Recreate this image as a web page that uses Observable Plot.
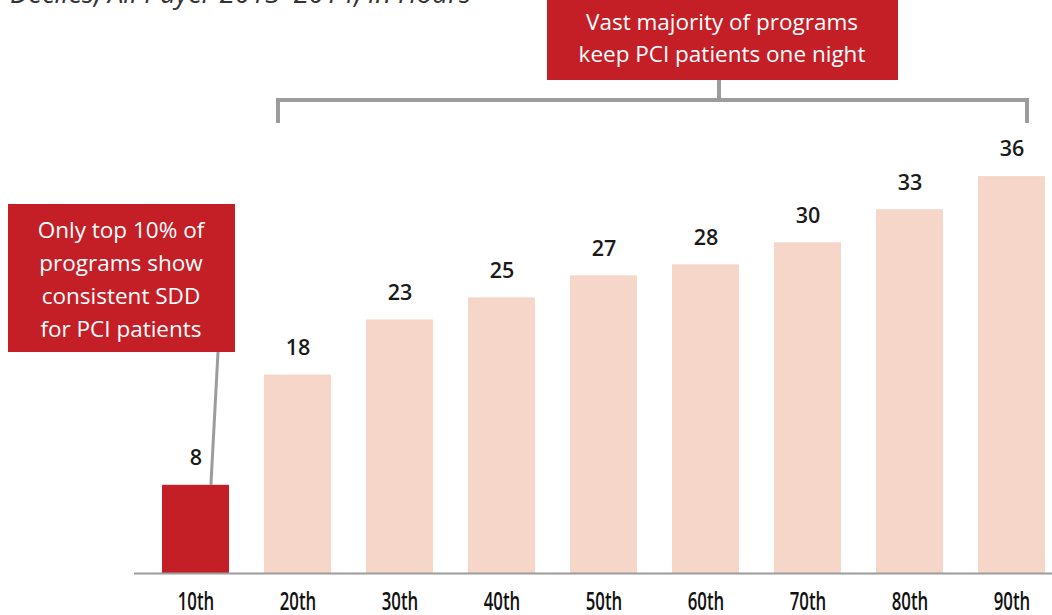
<!DOCTYPE html>
<html>
<head>
<meta charset="utf-8">
<script src="https://cdn.jsdelivr.net/npm/d3@7"></script>
<script src="https://cdn.jsdelivr.net/npm/@observablehq/plot@0.6"></script>
<style>
  html, body { margin: 0; padding: 0; background: #fff; overflow: hidden; }
  #chart svg { overflow: visible; }
</style>
</head>
<body>
<div id="chart"></div>
<script>
const deciles = ["10th", "20th", "30th", "40th", "50th", "60th", "70th", "80th", "90th"];
const hours = [8, 18, 23, 25, 27, 28, 30, 33, 36];
const highlight = ["10th"];
const titleText = "Deciles, All Payer 2013–2014, in Hours";
const topNote = ["Vast majority of programs", "keep PCI patients one night"];
const leftNote = ["Only top 10% of", "programs show", "consistent SDD", "for PCI patients"];

const RED = "#C41F27";
const PINK = "#F6D6C8";
const GRAY = "#9C9C9C";
const SANS = "'Open Sans', 'Noto Sans', sans-serif";

const data = deciles.map((d, i) => ({decile: d, hours: hours[i]}));

const plot = Plot.plot({
  width: 1052,
  height: 615,
  marginTop: 132,
  marginBottom: 42,
  marginLeft: 134,
  marginRight: 0,
  style: {background: "#fff", overflow: "visible"},
  x: {domain: deciles, paddingInner: 0.345, paddingOuter: 0.16, align: 0.8, label: null, axis: null},
  y: {domain: [0, 40], axis: null},
  marks: [
    Plot.barY(data, {x: "decile", y: "hours", fill: d => highlight.includes(d.decile) ? RED : PINK}),
    Plot.ruleY([0], {stroke: GRAY, strokeWidth: 2}),
    Plot.text(data, {x: "decile", y: "hours", text: d => String(d.hours), dy: -27,
      fontSize: 21.5, fontWeight: 600, fill: "#1a1a1a", fontFamily: SANS}),
    Plot.text(deciles, {x: d => d, frameAnchor: "bottom", dy: 36, text: d => d,
      fontSize: 21, fontWeight: 600, fill: "#111", fontFamily: SANS, className: "decile-ticks"})
  ]
});

document.getElementById("chart").appendChild(plot);

const xs = plot.scale("x");
const ys = plot.scale("y");
const svg = d3.select(plot);

// condense the tick labels like the original's narrow face
svg.selectAll(".decile-ticks text").each(function() {
  const t = this.getAttribute("transform") || "";
  this.setAttribute("transform", t + " scale(0.8,1.18)");
});

// cut-off subtitle at top
svg.append("text")
  .attr("x", 10).attr("y", 3).attr("text-anchor", "start")
  .attr("font-family", SANS).attr("font-style", "italic")
  .attr("font-size", 27.5).attr("fill", "#333")
  .text(titleText);

// top bracket
const g1 = svg.append("g").attr("fill", "none").attr("stroke", GRAY).attr("stroke-width", 4);
const bx0 = 278, bx1 = 1027, by = 100, stemX = 719;
g1.append("path").attr("d", `M${bx0},123V${by}H${bx1}V123`);
g1.append("path").attr("d", `M${stemX},80V${by}`);

svg.append("rect").attr("x", 547).attr("y", -2).attr("width", 351).attr("height", 82).attr("fill", RED);
topNote.forEach((t, i) => {
  svg.append("text").attr("x", 722).attr("y", 30 + i * 32)
    .attr("text-anchor", "middle").attr("font-family", SANS)
    .attr("font-size", 22.5).attr("fill", "#fff").text(t);
});

// left note
const bar0x = xs.apply(highlight[0]) + xs.bandwidth * 0.73;
svg.append("line")
  .attr("x1", 218).attr("y1", 352)
  .attr("x2", bar0x).attr("y2", ys.apply(hours[0]))
  .attr("stroke", GRAY).attr("stroke-width", 3);
svg.append("rect").attr("x", 8).attr("y", 204).attr("width", 227).attr("height", 148).attr("fill", RED);
leftNote.forEach((t, i) => {
  svg.append("text").attr("x", 121).attr("y", 238 + i * 33)
    .attr("text-anchor", "middle").attr("font-family", SANS)
    .attr("font-size", 22.5).attr("fill", "#fff").text(t);
});
</script>
</body>
</html>
